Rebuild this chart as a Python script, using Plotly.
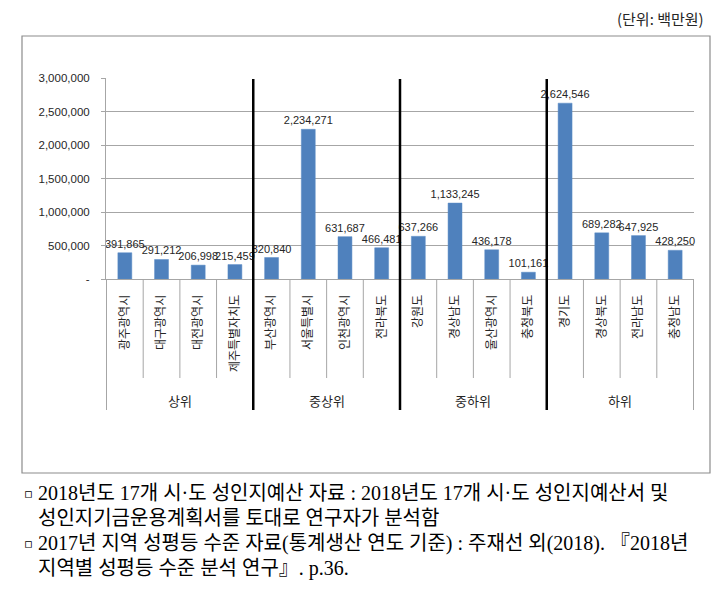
import plotly.graph_objects as go

# ── Data ──────────────────────────────────────────────────────────────────────
REGIONS = [
    "광주광역시", "대구광역시", "대전광역시", "제주특별자치도",
    "부산광역시", "서울특별시", "인천광역시", "전라북도",
    "강원도", "경상남도", "울산광역시", "충청북도",
    "경기도", "경상북도", "전라남도", "충청남도",
]
BUDGET = [
    391865, 291212, 206998, 215459,
    320840, 2234271, 631687, 466481,
    637266, 1133245, 436178, 101161,
    2624546, 689282, 647925, 428250,
]
GROUPS = ["상위", "중상위", "중하위", "하위"]
GROUP_SIZE = 4

Y_TICKS = [0, 500000, 1000000, 1500000, 2000000, 2500000, 3000000]
Y_TICK_TEXT = ["-", "500,000", "1,000,000", "1,500,000", "2,000,000", "2,500,000", "3,000,000"]

UNIT = "(단위: 백만원)"
NOTES = [
    ("▫", "2018년도 17개 시·도 성인지예산 자료 : 2018년도 17개 시·도 성인지예산서 및"),
    ("", "성인지기금운용계획서를 토대로 연구자가 분석함"),
    ("▫", "2017년 지역 성평등 수준 자료(통계생산 연도 기준) : 주재선 외(2018). 『2018년"),
    ("", "지역별 성평등 수준 분석 연구』. p.36."),
]

# ── Layout geometry (page pixels) ─────────────────────────────────────────────
W, H = 723, 594
L, R, T, B = 106, 694, 78, 279
KR = "Noto Sans CJK KR"
GREY = "#a6a6a6"


def px(x):
    return (x - L) / (R - L)


def py(y):
    return (B - y) / (B - T)


fig = go.Figure(go.Bar(
    x=REGIONS, y=BUDGET,
    marker=dict(color="#4f81bd", line=dict(color="#5b8cc6", width=0.5)),
    width=0.38,
    texttemplate="%{y:,}", textposition="outside", cliponaxis=False,
    constraintext="none",
    textfont=dict(family="Liberation Sans", size=11, color="#262626"),
))

shapes = []
# outer frame
shapes.append(dict(type="rect", xref="paper", yref="paper",
                   x0=px(22), x1=px(710), y0=py(473), y1=py(36),
                   line=dict(color="#8c8c8c", width=1.2), layer="below"))
# category separators below the axis
n = len(REGIONS)
for i in range(n + 1):
    xb = i - 0.5
    is_group = i % GROUP_SIZE == 0
    shapes.append(dict(type="line", xref="x", yref="paper",
                       x0=xb, x1=xb, y0=py(B), y1=py(410 if is_group else 378),
                       line=dict(color=GREY, width=1)))
# thick group dividers
for g in range(1, len(GROUPS)):
    xb = g * GROUP_SIZE - 0.5
    shapes.append(dict(type="line", xref="x", yref="paper",
                       x0=xb, x1=xb, y0=py(79), y1=py(410),
                       line=dict(color="black", width=2.5)))

annotations = []
for g, name in enumerate(GROUPS):
    annotations.append(dict(x=g * GROUP_SIZE + (GROUP_SIZE - 1) / 2, y=py(400),
                            xref="x", yref="paper", text=name, showarrow=False,
                            yanchor="middle",
                            font=dict(family=KR, size=13, color="#262626")))
annotations.append(dict(x=px(706), y=py(18), xref="paper", yref="paper",
                        text=UNIT, showarrow=False, xanchor="right", yanchor="middle",
                        font=dict(family=KR, size=15, color="#262626")))
for k, (bullet, line) in enumerate(NOTES):
    y = py(493 + k * 25.3)
    if bullet:
        annotations.append(dict(x=px(22), y=y, xref="paper", yref="paper",
                                text=bullet, showarrow=False, xanchor="left",
                                yanchor="middle",
                                font=dict(family="DejaVu Sans", size=13, color="black")))
    annotations.append(dict(x=px(36), y=y, xref="paper", yref="paper",
                            text=line, showarrow=False, xanchor="left", yanchor="middle",
                            font=dict(family=f"Liberation Serif, {KR}", size=20, color="black")))

fig.update_layout(
    width=W, height=H,
    margin=dict(l=L, r=W - R, t=T, b=H - B),
    paper_bgcolor="white", plot_bgcolor="white",
    showlegend=False, bargap=0.6,
    shapes=shapes, annotations=annotations,
    xaxis=dict(
        type="category", tickangle=-90, ticks="", showgrid=False,
        showline=True, linecolor=GREY, linewidth=1,
        tickfont=dict(family=KR, size=12, color="#262626"),
        ticklabelstandoff=10,
    ),
    yaxis=dict(
        range=[0, 3000000], tickvals=Y_TICKS, ticktext=Y_TICK_TEXT,
        ticks="outside", ticklen=4, tickcolor=GREY,
        showgrid=True, gridcolor=GREY, gridwidth=1,
        showline=True, linecolor=GREY, linewidth=1, zeroline=False,
        tickfont=dict(family="Liberation Sans", size=11.5, color="#262626"),
        ticklabelstandoff=9,
    ),
)

# the page body has a default 8px margin; drop it so the figure fills the window
fig.write_html("out.html", config={"displayModeBar": False},
               post_script="document.body.style.margin='0';document.body.style.overflow='hidden';")
